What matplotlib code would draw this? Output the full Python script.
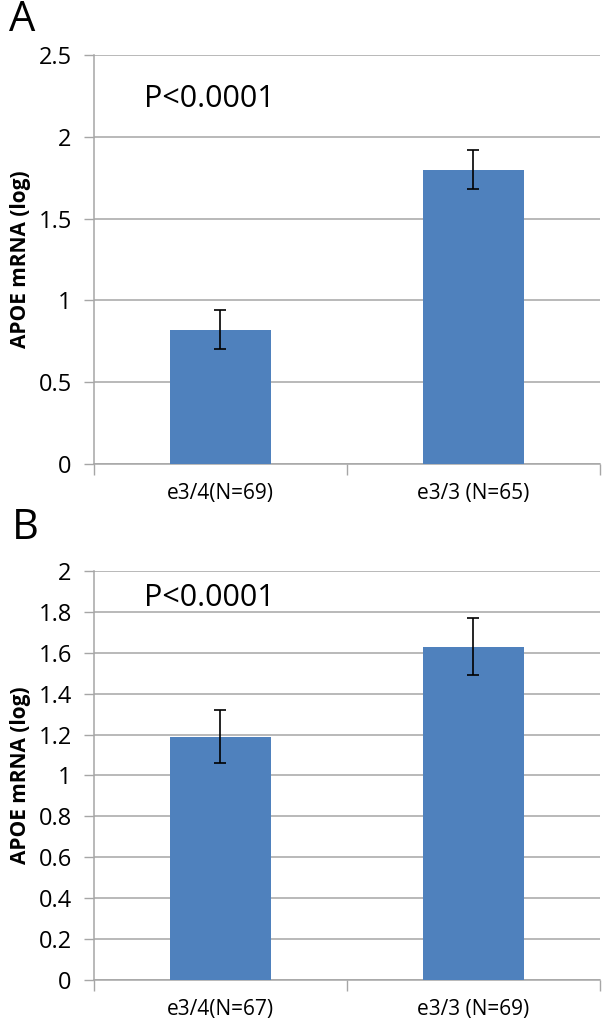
import matplotlib.pyplot as plt
import numpy as np

plt.rcParams['font.family'] = ['Open Sans', 'DejaVu Sans']

# panel A
cats_a = ['e3/4(N=69)', 'e3/3 (N=65)']
vals_a = [0.82, 1.80]
err_a = [0.12, 0.12]

# panel B
cats_b = ['e3/4(N=67)', 'e3/3 (N=69)']
vals_b = [1.19, 1.63]
err_b = [0.13, 0.14]

bar_color = '#4F81BD'
grid_color = '#A6A6A6'

fig = plt.figure(figsize=(6.06, 10.32), dpi=100)


def panel(rect, cats, vals, errs, ymax, step, ticklabels, ptext_y):
    ax = fig.add_axes(rect)
    x = np.arange(len(cats))
    ax.bar(x, vals, width=0.4, color=bar_color, zorder=3)
    ax.errorbar(x, vals, yerr=errs, fmt='none', ecolor='black',
                elinewidth=1.2, capsize=4, capthick=1.2, zorder=4)
    ax.set_xlim(-0.5, len(cats) - 0.5)
    ax.set_ylim(0, ymax)
    yt = np.arange(0, ymax + step / 2, step)
    ax.set_yticks(yt)
    ax.set_yticklabels(ticklabels, fontsize=17)
    ax.set_xticks([-0.5, 0.5, 1.5], minor=False)
    ax.set_xticklabels([])
    ax.set_xticks(x, minor=True)
    ax.set_xticklabels(cats, minor=True, fontsize=15)
    ax.tick_params(axis='x', which='major', length=8, color=grid_color, width=1)
    ax.tick_params(axis='x', which='minor', length=0, pad=14)
    ax.tick_params(axis='y', length=7, color=grid_color, width=1, pad=9)
    ax.grid(axis='y', color=grid_color, linewidth=1.1, zorder=0)
    for s in ['top', 'right']:
        ax.spines[s].set_visible(False)
    for s in ['left', 'bottom']:
        ax.spines[s].set_color(grid_color)
        ax.spines[s].set_linewidth(1.1)
    ax.set_ylabel('APOE mRNA (log)', fontsize=15, fontweight='bold')
    ax.yaxis.set_label_coords(-0.125, 0.5)
    ax.text(0.098, ptext_y, 'P<0.0001', transform=ax.transAxes,
            fontsize=22, va='center', ha='left')
    return ax


axA = panel([0.155, 0.5504, 0.835, 0.3963], cats_a, vals_a, err_a,
            2.5, 0.5, ['0', '0.5', '1', '1.5', '2', '2.5'], 0.892)
axB = panel([0.155, 0.0504, 0.835, 0.3963], cats_b, vals_b, err_b,
            2.0, 0.2, ['0', '0.2', '0.4', '0.6', '0.8', '1', '1.2', '1.4',
                       '1.6', '1.8', '2'], 0.934)

fig.text(0.037, 1 - 20 / 1032, 'A', fontsize=30, ha='center', va='center')
fig.text(0.042, 1 - 528 / 1032, 'B', fontsize=30, ha='center', va='center')

plt.savefig('out.png', dpi=100)
